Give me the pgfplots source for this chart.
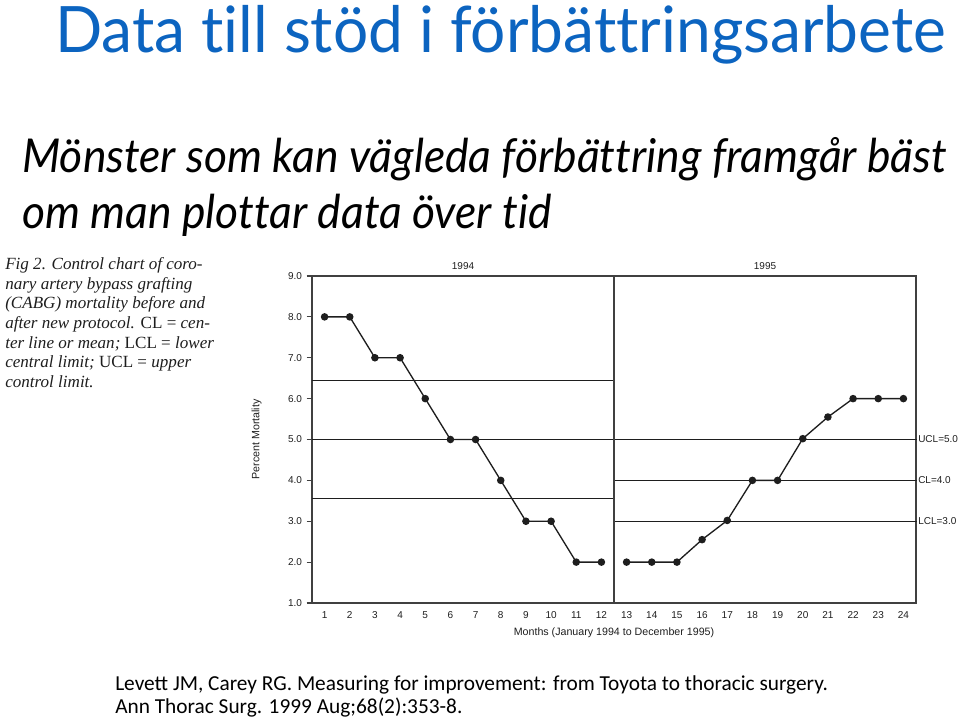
\documentclass[border=0pt]{standalone}
\usepackage{pgfplots}
\pgfplotsset{compat=1.18}
\usepackage{fontspec}
\setmainfont{Liberation Sans}
\newfontfamily\titlefont[Ligatures={NoCommon}, FakeStretch=0.972]{Lato}
\newfontfamily\subfont[Ligatures={NoCommon}, FakeStretch=0.952]{Lato}
\newfontfamily\capfont{Liberation Serif}
\newfontfamily\reffont{Carlito}
\definecolor{titleblue}{RGB}{12,100,192}
\definecolor{ink}{RGB}{30,30,30}
\begin{document}
\begin{tikzpicture}
\path[use as bounding box] (0,0) rectangle (720pt,-538.5pt);
\begin{scope}[x=0.75pt,y=-0.75pt]
\node[anchor=base west, inner sep=0, text=titleblue, font=\titlefont\fontsize{48}{50}\selectfont] at (55,52) {Data till stöd i förbättringsarbete};
\node[anchor=base west, inner sep=0, font=\subfont\itshape\fontsize{35}{40}\selectfont] at (22,172) {Mönster som kan vägleda förbättring framgår bäst};
\node[anchor=base west, inner sep=0, font=\subfont\itshape\fontsize{35}{40}\selectfont] at (22,228) {om man plottar data över tid};
\begin{scope}[every node/.style={anchor=base west, inner sep=0, font=\capfont\itshape\fontsize{12.8}{14}\selectfont, text=ink}]
\node at (5,269) {Fig 2. Control chart of coro-};
\node at (5,289) {nary artery bypass grafting};
\node at (5,308) {(CABG) mortality before and};
\node at (5,328) {after new protocol. \textup{CL =} cen-};
\node at (5,348) {ter line or mean; \textup{LCL =} lower};
\node at (5,367) {central limit; \textup{UCL =} upper};
\node at (5,387) {control limit.};
\end{scope}
\node[anchor=base west, inner sep=0, font=\reffont\fontsize{16}{18}\selectfont] at (115,690) {Levett JM, Carey RG. Measuring for improvement: from Toyota to thoracic surgery.};
\node[anchor=base west, inner sep=0, font=\reffont\fontsize{16}{18}\selectfont] at (115,713) {Ann Thorac Surg. 1999 Aug;68(2):353-8.};
\end{scope}
\begin{axis}[
  at={(234pt,-207pt)}, anchor=north west,
  scale only axis, width=453pt, height=245.25pt,
  xmin=0.5, xmax=24.5, ymin=1, ymax=9,
  xtick={1,...,24}, ytick={1,...,9},
  ytick pos=left,
  major x tick style={draw=none},
  tick align=outside, major tick length=4pt,
  y tick label style={/pgf/number format/.cd, fixed, fixed zerofill, precision=1},
  /pgf/number format/assume math mode=true,
  tick label style={font=\fontsize{7.5}{9}\selectfont, text=ink},
  xticklabel style={yshift=1pt},
  axis line style={draw=ink!85, line width=0.9pt},
  every tick/.style={draw=ink!85, line width=0.8pt},
  ylabel={Percent Mortality}, ylabel style={font=\fontsize{8}{9}\selectfont, text=ink, yshift=13pt},
  xlabel={Months (January 1994 to December 1995)}, xlabel style={font=\fontsize{8}{9}\selectfont, text=ink, yshift=0pt},
  clip=false,
]
% control limits
\addplot[ink, line width=0.8pt, mark=none] coordinates {(0.5,6.45) (12.5,6.45)};
\addplot[ink, line width=0.8pt, mark=none] coordinates {(0.5,5.0) (12.5,5.0)};
\addplot[ink, line width=0.8pt, mark=none] coordinates {(0.5,3.55) (12.5,3.55)};
\addplot[ink, line width=0.8pt, mark=none] coordinates {(12.5,5.0) (24.55,5.0)};
\addplot[ink, line width=0.8pt, mark=none] coordinates {(12.5,4.0) (24.55,4.0)};
\addplot[ink, line width=0.8pt, mark=none] coordinates {(12.5,3.0) (24.55,3.0)};
\addplot[ink!85, line width=0.9pt, mark=none] coordinates {(12.5,1) (12.5,9)};
% data 1994
\addplot[ink, line width=1pt, mark=*, mark size=2.3pt] coordinates {
(1,8.0) (2,8.0) (3,7.0) (4,7.0) (5,6.0) (6,5.0) (7,5.0) (8,4.0) (9,3.0) (10,3.0) (11,2.0) (12,2.0)};
% data 1995
\addplot[ink, line width=1pt, mark=*, mark size=2.3pt] coordinates {
(13,2.0) (14,2.0) (15,2.0) (16,2.55) (17,3.02) (18,4.0) (19,4.0) (20,5.02) (21,5.55) (22,6.0) (23,6.0) (24,6.0)};
\node[font=\fontsize{7.5}{9}\selectfont, text=ink, anchor=south] at (axis cs:6.5,9) [yshift=1pt] {1994};
\node[font=\fontsize{7.5}{9}\selectfont, text=ink, anchor=south] at (axis cs:18.5,9) [yshift=1pt] {1995};
\node[font=\fontsize{7.5}{9}\selectfont, text=ink, anchor=west, inner sep=0] at (axis cs:24.5,5.0) [xshift=1.5pt] {UCL=5.0};
\node[font=\fontsize{7.5}{9}\selectfont, text=ink, anchor=west, inner sep=0] at (axis cs:24.5,4.0) [xshift=1.5pt] {CL=4.0};
\node[font=\fontsize{7.5}{9}\selectfont, text=ink, anchor=west, inner sep=0] at (axis cs:24.5,3.0) [xshift=1.5pt] {LCL=3.0};
\end{axis}
\end{tikzpicture}
\end{document}
